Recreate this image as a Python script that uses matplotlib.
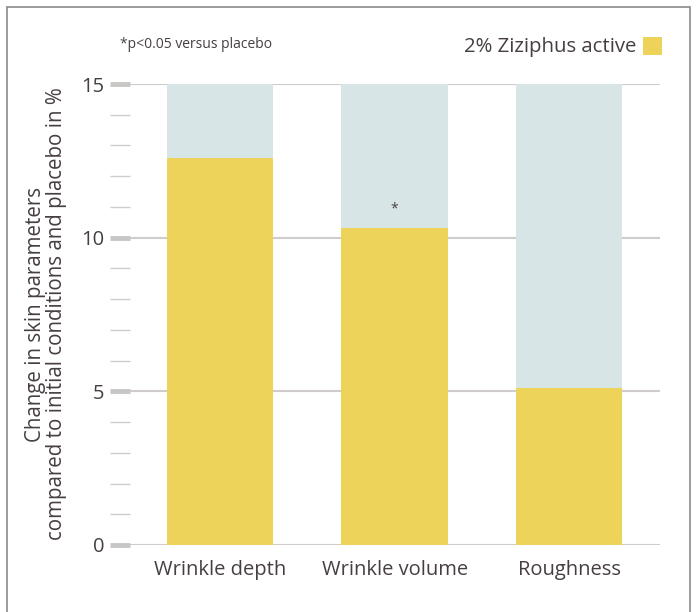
import matplotlib
matplotlib.use("Agg")
import matplotlib.pyplot as plt
from matplotlib.patches import Rectangle
from matplotlib.ticker import MultipleLocator

categories = ["Wrinkle depth", "Wrinkle volume", "Roughness"]
active_values = [12.6, 10.3, 5.1]
placebo_cap = [15, 15, 15]
significant = [False, True, False]
yticks = [0, 5, 10, 15]
legend_label = "2% Ziziphus active"
footnote = "*p<0.05 versus placebo"
ylabel = "Change in skin parameters\ncompared to initial conditions and placebo in %"

plt.rcParams['font.family'] = ['Open Sans', 'DejaVu Sans']
TXT = "#473f3f"
YEL = "#edd35a"
BLU = "#d8e5e6"
GRID = "#d0cccc"

fig = plt.figure(figsize=(6.96, 6.12), dpi=100)
W, H = 696, 612
ax = fig.add_axes([130 / W, 1 - 545 / H, (660 - 130) / W, (545 - 84) / H])

x = list(range(len(categories)))
ax.bar(x, placebo_cap, width=0.61, color=BLU, zorder=2)
ax.bar(x, active_values, width=0.61, color=YEL, zorder=3)
for xi, v, s in zip(x, active_values, significant):
    if s:
        ax.text(xi, v + 0.62, "*", ha="center", va="center", fontsize=10, color=TXT, zorder=4)

ax.set_xlim(-0.516, 2.52)
ax.set_ylim(0, 15)
ax.set_yticks(yticks)
ax.set_yticklabels([str(t) for t in yticks])
ax.yaxis.set_minor_locator(MultipleLocator(1))
ax.set_xticks(x)
ax.set_xticklabels(categories)

for sp in ax.spines.values():
    sp.set_visible(False)
ax.grid(axis="y", which="major", color=GRID, linewidth=1.5, zorder=1)
ax.set_axisbelow(True)
ax.tick_params(axis="y", which="major", length=14.4, width=3.5, color="#c9c6c6",
               labelsize=14.5, labelcolor=TXT, pad=4)
ax.tick_params(axis="y", which="minor", length=14.4, width=1.0, color="#cfcccc")
ax.tick_params(axis="x", length=0, labelsize=14.5, labelcolor=TXT, pad=11)

fig.text(46 / W, 1 - 314 / H, ylabel, rotation=90, fontsize=14.8, color=TXT,
         ha="center", va="center", linespacing=1.0, multialignment="center")

fig.text(120 / W, 1 - 45 / H, footnote, fontsize=10, color=TXT, va="center", ha="left")
fig.text(636 / W, 1 - 47 / H, legend_label, fontsize=14.7, color=TXT, va="center", ha="right")
fig.patches.append(Rectangle((643 / W, 1 - 55 / H), 19 / W, 18 / H, transform=fig.transFigure,
                             facecolor=YEL, edgecolor="none"))
fig.patches.append(Rectangle((7 / W, -0.05), (690 - 7) / W, 1.05 - 7 / H, transform=fig.transFigure,
                             facecolor="none", edgecolor="#8a8a8a", linewidth=1.2))

fig.savefig("out.png", dpi=100)
